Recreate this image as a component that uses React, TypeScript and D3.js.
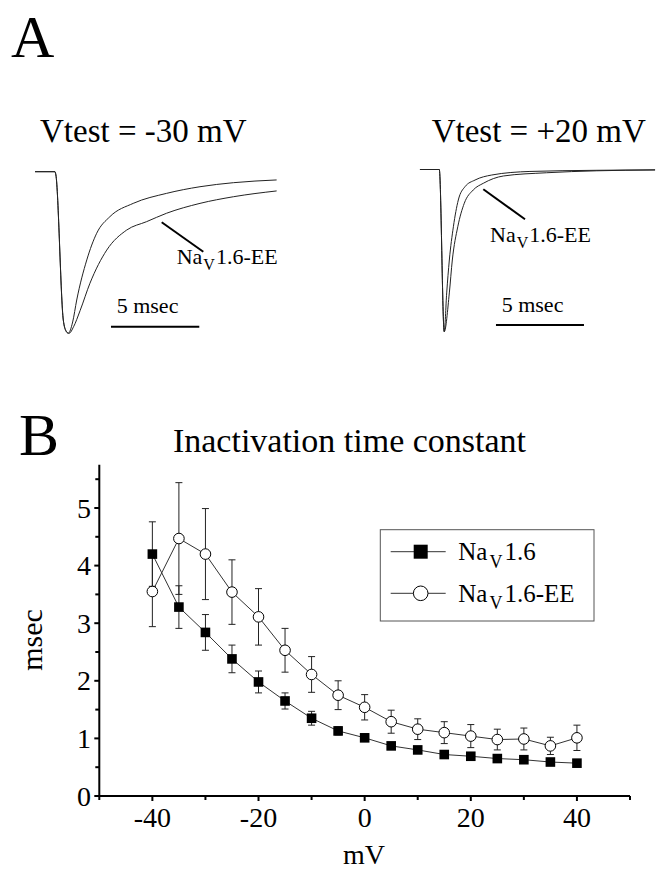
import React from 'react';
import * as d3 from 'd3';

const FONT = '"Liberation Serif", "Times New Roman", Times, serif';

// Panel B data
const mV = [-40, -35, -30, -25, -20, -15, -10, -5, 0, 5, 10, 15, 20, 25, 30, 35, 40];
const nav16Tau = [4.2, 3.28, 2.84, 2.38, 1.98, 1.65, 1.35, 1.13, 1.01, 0.87, 0.8, 0.72, 0.69, 0.65, 0.63, 0.59, 0.57];
const nav16Err = [0.56, 0.37, 0.31, 0.24, 0.19, 0.14, 0.12, 0.07, 0.05, 0.05, 0.05, 0.04, 0.04, 0.04, 0.04, 0.04, 0.04];
const eeTau = [3.55, 4.47, 4.2, 3.54, 3.11, 2.53, 2.11, 1.75, 1.54, 1.29, 1.16, 1.1, 1.04, 0.98, 0.99, 0.87, 1.01];
const eeErr = [0.61, 0.97, 0.79, 0.56, 0.49, 0.38, 0.31, 0.25, 0.22, 0.2, 0.18, 0.19, 0.2, 0.18, 0.19, 0.15, 0.22];

const yMajorTicks = [0, 1, 2, 3, 4, 5];
const yMinorTicks = [0.5, 1.5, 2.5, 3.5, 4.5, 5.5];
const xMajorTicks = [-40, -20, 0, 20, 40];
const xMinorTicks = [-50, -30, -10, 10, 30, 50];

// Panel A traces: [time (ms), normalized current]
const leftNav16: [number, number][] = [
  [-1.13, 0], [0, 0], [0.05, -0.02], [0.47, -0.918], [0.62, -0.985], [0.75, -1.0], [1.0, -0.93],
  [1.23, -0.794], [1.8, -0.546], [2.36, -0.381], [3.11, -0.278], [4.43, -0.196], [6.32, -0.134],
  [8.21, -0.093], [10.1, -0.068], [12.55, -0.051],
];
const leftEE: [number, number][] = [
  [-1.13, 0], [0, 0], [0.05, -0.02], [0.47, -0.918], [0.65, -0.99], [0.8, -1.0], [1.05, -0.96],
  [1.42, -0.86], [1.98, -0.69], [2.93, -0.485], [4.06, -0.361], [5.19, -0.309], [6.32, -0.257],
  [8.21, -0.196], [10.1, -0.155], [12.55, -0.119],
];
const rightNav16: [number, number][] = [
  [-1.1, 0], [0, 0], [0.28, -1.0], [0.42, -0.761], [0.57, -0.558], [0.8, -0.353], [1.08, -0.188],
  [1.46, -0.106], [2.03, -0.065], [2.98, -0.034], [5.15, -0.012], [8.9, -0.005], [12.26, -0.002],
];
const rightEE: [number, number][] = [
  [-1.1, 0], [0, 0], [0.28, -1.0], [0.57, -0.761], [0.74, -0.558], [1.05, -0.353], [1.42, -0.208],
  [1.93, -0.126], [2.5, -0.085], [3.64, -0.04], [6.1, -0.02], [8.94, -0.008], [12.26, -0.003],
];

export default function App() {
  // Panel B scales
  const x = d3.scaleLinear().domain([-50, 50]).range([99.3, 630]);
  const y = d3.scaleLinear().domain([0, 5.75]).range([796, 464.8]);

  const seriesLine = (vals: number[]) =>
    d3.line<number>().x((_, i) => x(mV[i])).y((d) => y(d))(vals) || '';

  // Panel A scales
  const tL = d3.scaleLinear().domain([0, 5]).range([55, 143.3]);
  const iL = d3.scaleLinear().domain([0, -1]).range([171.7, 333.3]);
  const tR = d3.scaleLinear().domain([0, 5]).range([439.3, 527.3]);
  const iR = d3.scaleLinear().domain([0, -1]).range([169.5, 331.7]);
  const traceL = d3.line<[number, number]>().x((d) => tL(d[0])).y((d) => iL(d[1])).curve(d3.curveMonotoneX);
  const traceR = d3.line<[number, number]>().x((d) => tR(d[0])).y((d) => iR(d[1])).curve(d3.curveMonotoneX);

  const errBars = (vals: number[], errs: number[], key: string) =>
    vals.map((v, i) => {
      const cx = x(mV[i]);
      const y1 = y(v + errs[i]);
      const y2 = y(v - errs[i]);
      return (
        <g key={key + i} stroke="#222" strokeWidth={1}>
          <line x1={cx} x2={cx} y1={y1} y2={y2} />
          <line x1={cx - 3.5} x2={cx + 3.5} y1={y1} y2={y1} />
          <line x1={cx - 3.5} x2={cx + 3.5} y1={y2} y2={y2} />
        </g>
      );
    });

  const NaV = (xx: number, yy: number, size: number, subSize: number, suffix: string, gap: number) => (
    <text x={xx} y={yy} fontSize={size} fontFamily={FONT} fill="#000">
      Na
      <tspan fontSize={subSize} dx={gap} dy={size * 0.3}>V</tspan>
      <tspan dx={gap} dy={-size * 0.3}>{suffix}</tspan>
    </text>
  );

  return (
    <svg
      width={656}
      height={870}
      style={{ position: 'absolute', left: 0, top: 0, background: '#fff' }}
      fontFamily={FONT}
    >
      <rect x={0} y={0} width={656} height={870} fill="#fff" />

      {/* Panel A */}
      <text x={11} y={57} fontSize={60}>A</text>
      <text x={40} y={142} fontSize={33}>Vtest = -30 mV</text>
      <text x={431.7} y={142} fontSize={33}>Vtest = +20 mV</text>

      <path d={traceL(leftNav16) || ''} fill="none" stroke="#222" strokeWidth={1} />
      <path d={traceL(leftEE) || ''} fill="none" stroke="#222" strokeWidth={1} />
      <path d={traceR(rightNav16) || ''} fill="none" stroke="#222" strokeWidth={1} />
      <path d={traceR(rightEE) || ''} fill="none" stroke="#222" strokeWidth={1} />

      <line x1={161.7} y1={222.3} x2={203.3} y2={251.7} stroke="#000" strokeWidth={2} />
      {NaV(176.7, 263.5, 22, 16, '1.6-EE', 1)}
      <line x1={483.3} y1={189.3} x2={525} y2={219.3} stroke="#000" strokeWidth={2} />
      {NaV(490, 241.7, 22, 16, '1.6-EE', 1)}

      <line x1={tL(3.17)} x2={tL(8.17)} y1={326.7} y2={326.7} stroke="#000" strokeWidth={2} />
      <text x={116.7} y={313.3} fontSize={22}>5 msec</text>
      <line x1={tR(3.22)} x2={tR(8.22)} y1={325} y2={325} stroke="#000" strokeWidth={2} />
      <text x={501.7} y={311.7} fontSize={22}>5 msec</text>

      {/* Panel B */}
      <text x={19} y={455} fontSize={60}>B</text>
      <text x={349.5} y={451.7} fontSize={34} textAnchor="middle">Inactivation time constant</text>

      {/* axes */}
      <line x1={x(-50)} x2={x(-50)} y1={y(0) + 1} y2={y(5.75)} stroke="#000" strokeWidth={2} />
      <line x1={x(-50) - 1} x2={x(50)} y1={y(0)} y2={y(0)} stroke="#000" strokeWidth={2} />
      {yMajorTicks.map((t) => (
        <g key={'ym' + t}>
          <line x1={x(-50) - 5} x2={x(-50)} y1={y(t)} y2={y(t)} stroke="#000" strokeWidth={2} />
          <text x={91} y={y(t) + 9.5} fontSize={28} textAnchor="end">{t}</text>
        </g>
      ))}
      {yMinorTicks.map((t) => (
        <line key={'yn' + t} x1={x(-50) - 4} x2={x(-50)} y1={y(t)} y2={y(t)} stroke="#000" strokeWidth={2} />
      ))}
      {xMajorTicks.map((t) => (
        <g key={'xm' + t}>
          <line x1={x(t)} x2={x(t)} y1={y(0)} y2={y(0) + 5} stroke="#000" strokeWidth={2} />
          <text x={x(t)} y={826.7} fontSize={28} textAnchor="middle">{t}</text>
        </g>
      ))}
      {xMinorTicks.map((t) => (
        <line key={'xn' + t} x1={x(t)} x2={x(t)} y1={y(0)} y2={y(0) + 4} stroke="#000" strokeWidth={2} />
      ))}
      <text x={364} y={864} fontSize={28} textAnchor="middle">mV</text>
      <text transform="translate(41.7,640) rotate(-90)" fontSize={30} textAnchor="middle">msec</text>

      {/* series lines */}
      <path d={seriesLine(nav16Tau)} fill="none" stroke="#333" strokeWidth={1} />
      <path d={seriesLine(eeTau)} fill="none" stroke="#333" strokeWidth={1} />
      {errBars(nav16Tau, nav16Err, 'en')}
      {errBars(eeTau, eeErr, 'ee')}
      {nav16Tau.map((v, i) => (
        <rect key={'sq' + i} x={x(mV[i]) - 4.8} y={y(v) - 4.8} width={9.6} height={9.6} fill="#000" />
      ))}
      {eeTau.map((v, i) => (
        <circle key={'ci' + i} cx={x(mV[i])} cy={y(v)} r={5.3} fill="#fff" stroke="#000" strokeWidth={1} />
      ))}

      {/* legend */}
      <rect x={380.3} y={529.7} width={213.7} height={91.3} fill="#fff" stroke="#555" strokeWidth={1} />
      <line x1={390.7} x2={445.7} y1={551.7} y2={551.7} stroke="#333" strokeWidth={1} />
      <rect x={420.7 - 7} y={551.7 - 7} width={14} height={14} fill="#000" />
      {NaV(458.3, 560, 25, 18, '1.6', 2)}
      <line x1={390.7} x2={445.7} y1={593.3} y2={593.3} stroke="#333" strokeWidth={1} />
      <circle cx={420.7} cy={593.3} r={7.3} fill="#fff" stroke="#000" strokeWidth={1} />
      {NaV(458.3, 601.7, 25, 18, '1.6-EE', 2)}
    </svg>
  );
}
